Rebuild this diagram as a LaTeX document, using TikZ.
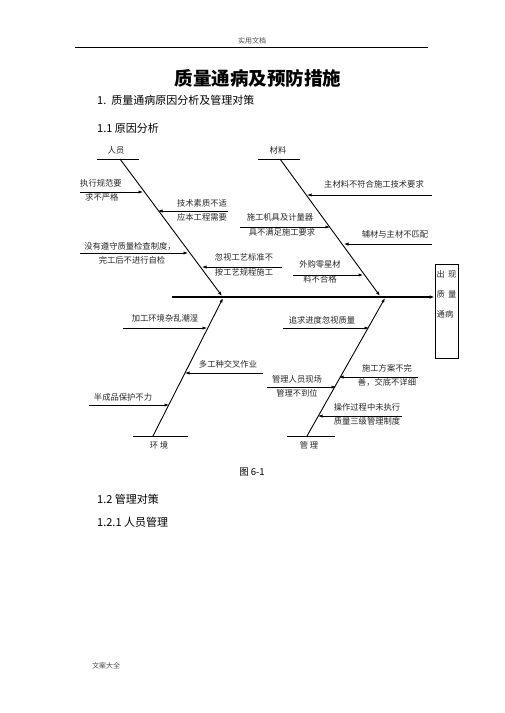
\documentclass[tikz,border=0pt]{standalone}
\usepackage{fontspec}
\setmainfont{Noto Sans CJK SC}
\usetikzlibrary{arrows.meta}
\begin{document}
\begin{tikzpicture}[x=1pt,y=-1pt,
  lbl/.style={font=\fontsize{8.3}{10}\selectfont, inner sep=0pt, text=black!85},
  head/.style={font=\fontsize{11}{13}\selectfont, inner sep=0pt, anchor=west},
  br/.style={-{Latex[length=4.5pt,width=3.2pt]}, line width=0.7pt},
  bone/.style={-{Latex[length=4.5pt,width=3.2pt]}, line width=0.9pt},
  base/.style={line width=0.8pt}]
\useasboundingbox (0,0) rectangle (504,713);
% header
\node[font=\fontsize{7}{8}\selectfont, text=black!70, inner sep=0pt] (hdr) at (252,41) {实用文档};
\coordinate (hl) at (75,47); \coordinate (hr) at (428,47);
\draw[line width=0.8pt] (hl) -- (hr);
\node[font=\bfseries\fontsize{18.5}{21}\selectfont, inner sep=0pt] (title) at (258,78) {质量通病及预防措施};
\node[head] (s1) at (97,100) {1.\ \ 质量通病原因分析及管理对策};
\node[head] (s11) at (97,128) {1.1 原因分析};

% ---- 人员 bone
\node[lbl] (ry) at (116,150) {人员};
\coordinate (ryL) at (97,159); \coordinate (ryR) at (139,159);
\draw[base] (ryL) -- (ryR);
\coordinate (ryS) at (120,159); \coordinate (ryE) at (222,296);
\draw[bone] (ryS) -- (ryE);
% branches
\coordinate (a1s) at (80,192); \coordinate (a1e) at (143,192);
\draw[br] (a1s) -- (a1e);
\node[lbl, anchor=west] (a1t) at (80,183) {执行规范要};
\node[lbl, anchor=west] (a1b) at (85,197) {求不严格};

\coordinate (a2s) at (228,211); \coordinate (a2e) at (158,211);
\draw[br] (a2s) -- (a2e);
\node[lbl] (a2t) at (202,203) {技术素质不适};
\node[lbl] (a2b) at (202,217) {应本工程需要};

\coordinate (a3s) at (80,253); \coordinate (a3e) at (188,253);
\draw[br] (a3s) -- (a3e);
\node[lbl] (a3t) at (130,246) {没有遵守质量检查制度，};
\node[lbl] (a3b) at (132,260) {完工后不进行自检};

\coordinate (a4s) at (282,267); \coordinate (a4e) at (202,267);
\draw[br] (a4s) -- (a4e);
\node[lbl] (a4t) at (244,257) {忽视工艺标准不};
\node[lbl] (a4b) at (244,272) {按工艺规程施工};

% ---- 材料 bone
\node[lbl] (cl) at (278,150) {材料};
\coordinate (clL) at (258,159); \coordinate (clR) at (300,159);
\draw[base] (clL) -- (clR);
\coordinate (clS) at (280,159); \coordinate (clE) at (380,296);
\draw[bone] (clS) -- (clE);

\coordinate (b1s) at (432,195); \coordinate (b1e) at (307,195);
\draw[br] (b1s) -- (b1e);
\node[lbl] (b1t) at (374,184) {主材料不符合施工技术要求};

\coordinate (b2s) at (240,227); \coordinate (b2e) at (330,227);
\draw[br] (b2s) -- (b2e);
\node[lbl] (b2t) at (280,217) {施工机具及计量器};
\node[lbl] (b2b) at (282,232) {具不满足施工要求};

\coordinate (b3s) at (432,244); \coordinate (b3e) at (344,244);
\draw[br] (b3s) -- (b3e);
\node[lbl] (b3t) at (395,234) {辅材与主材不匹配};

\coordinate (b4s) at (293,275); \coordinate (b4e) at (363,275);
\draw[br] (b4s) -- (b4e);
\node[lbl] (b4t) at (320,264) {外购零星材};
\node[lbl] (b4b) at (320,279) {料不合格};

% ---- spine and box
\node[draw, line width=0.8pt, minimum width=23pt, minimum height=94pt, inner sep=0pt] (box) at (446.5,311) {};
\node[lbl, anchor=west] (bx1) at (436.5,274) {出\,\ 现};
\node[lbl, anchor=west] (bx2) at (436.5,294) {质\,\ 量};
\node[lbl, anchor=west] (bx3) at (436.5,314) {通病};
\coordinate (spS) at (172,297);
\draw[-{Latex[length=5pt,width=3.6pt]}, line width=1.6pt] (spS) -- (spS -| box.west);

% ---- 环境 bone
\node[lbl] (hj) at (159,445) {环\ 境};
\coordinate (hjL) at (133,436); \coordinate (hjR) at (188,436);
\draw[base] (hjL) -- (hjR);
\coordinate (hjS) at (153,436); \coordinate (hjE) at (223,298);
\draw[bone] (hjS) -- (hjE);

\coordinate (c1s) at (123,328); \coordinate (c1e) at (207,328);
\draw[br] (c1s) -- (c1e);
\node[lbl] (c1t) at (165,318) {加工环境杂乱潮湿};

\coordinate (c2s) at (263,373); \coordinate (c2e) at (185,373);
\draw[br] (c2s) -- (c2e);
\node[lbl] (c2t) at (228,364) {多工种交叉作业};

\coordinate (c3s) at (89,405); \coordinate (c3e) at (169,405);
\draw[br] (c3s) -- (c3e);
\node[lbl] (c3t) at (123,397) {半成品保护不力};

% ---- 管理 bone
\node[lbl] (gl) at (309,445) {管\ 理};
\coordinate (glL) at (287,436); \coordinate (glR) at (335,436);
\draw[base] (glL) -- (glR);
\coordinate (glS) at (307,436); \coordinate (glE) at (385,298);
\draw[bone] (glS) -- (glE);

\coordinate (d1s) at (283,328); \coordinate (d1e) at (369,328);
\draw[br] (d1s) -- (d1e);
\node[lbl] (d1t) at (322,320) {追求进度忽视质量};

\coordinate (d2s) at (418,377); \coordinate (d2e) at (339,377);
\draw[br] (d2s) -- (d2e);
\node[lbl] (d2t) at (387,368) {施工方案不完};
\node[lbl] (d2b) at (387,382) {善，交底不详细};

\coordinate (d3s) at (267,387); \coordinate (d3e) at (336,387);
\draw[br] (d3s) -- (d3e);
\node[lbl] (d3t) at (297,379) {管理人员现场};
\node[lbl] (d3b) at (297,393) {管理不到位};

\coordinate (d4s) at (402,416); \coordinate (d4e) at (318,416);
\draw[br] (d4s) -- (d4e);
\node[lbl] (d4t) at (367,407) {操作过程中未执行};
\node[lbl] (d4b) at (367,421) {质量三级管理制度};

% ---- caption and following headings
\node[font=\fontsize{9.5}{11}\selectfont, inner sep=0pt] (cap) at (252,472) {图 6-1};
\node[head] (s12) at (97,499) {1.2 管理对策};
\node[head] (s121) at (97,522) {1.2.1 人员管理};
\node[font=\fontsize{7}{8}\selectfont, text=black!70, inner sep=0pt, anchor=west] (ftr) at (92,666) {文案大全};
\end{tikzpicture}
\end{document}
